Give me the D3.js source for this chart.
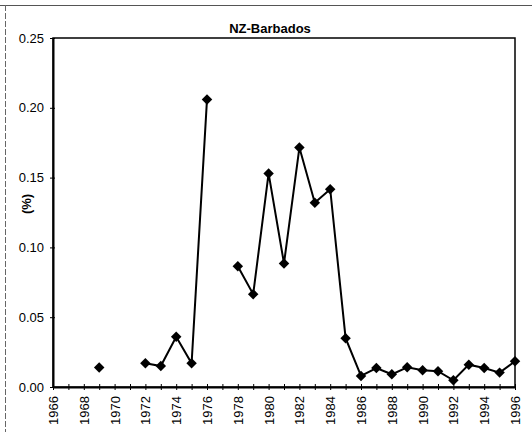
<!DOCTYPE html>
<html>
<head>
<meta charset="utf-8">
<script src="https://cdn.jsdelivr.net/npm/d3@7"></script>
<style>
  html, body { margin: 0; padding: 0; background: #fff; }
  svg { display: block; }
  text { font-family: "Liberation Sans", Arial, sans-serif; }
</style>
</head>
<body>
<svg id="chart" width="532" height="432"></svg>
<script>
// Trade share NZ-Barbados, percent by year (null = no observation)
const years = d3.range(1966, 1997);
const shareValues = [
  null, null, null, 0.014, null, null, 0.017, 0.015, 0.036, 0.017,
  0.206, null, 0.0865, 0.0665, 0.153, 0.0885, 0.1715, 0.132, 0.1417, 0.035,
  0.0079, 0.0136, 0.0091, 0.0141, 0.012, 0.0113, 0.0048, 0.016, 0.0136, 0.0103,
  0.0184
];
const yTicks = [0, 0.05, 0.10, 0.15, 0.20, 0.25];
const xTickLabels = d3.range(1966, 1997, 2);
const chartTitle = "NZ-Barbados";
const yLabel = "(%)";

const svg = d3.select("#chart");
const margin = { left: 53, right: 17, top: 38, bottom: 45 };
const W = 532, H = 432;
const x = d3.scaleLinear().domain([1966, 1996]).range([margin.left, W - margin.right]);
const y = d3.scaleLinear().domain([0, 0.25]).range([H - margin.bottom, margin.top]);

const data = years.map((yr, i) => ({ year: yr, v: shareValues[i] }));

// page frame lines
svg.append("line").attr("x1", 0).attr("x2", W).attr("y1", 5.5).attr("y2", 5.5)
  .attr("stroke", "#555").attr("stroke-width", 1);
svg.append("line").attr("x1", 5.5).attr("x2", 5.5).attr("y1", 5).attr("y2", H)
  .attr("stroke", "#666").attr("stroke-width", 1).attr("stroke-dasharray", "6,2");

// plot border
svg.append("rect")
  .attr("x", x(1966)).attr("y", y(0.25))
  .attr("width", x(1996) - x(1966)).attr("height", y(0) - y(0.25))
  .attr("fill", "none").attr("stroke", "#000").attr("stroke-width", 1.5);

// y axis
const yAxis = d3.axisLeft(y).tickValues(yTicks).tickFormat(d3.format(".2f"))
  .tickSizeInner(4).tickSizeOuter(0).tickPadding(6);
const gy = svg.append("g").attr("transform", `translate(${x(1966)},0)`).call(yAxis);
gy.select(".domain").attr("stroke", "#000").attr("stroke-width", 2);
gy.selectAll(".tick line").attr("stroke", "#000").attr("x2", -3).attr("x1", 2);
gy.selectAll(".tick text").attr("font-size", 13).attr("fill", "#000").attr("x", -9);

// x axis
const xAxis = d3.axisBottom(x).tickValues(years)
  .tickFormat(d => (xTickLabels.includes(d) ? d : ""))
  .tickSizeInner(4).tickSizeOuter(0).tickPadding(4);
const gx = svg.append("g").attr("transform", `translate(0,${y(0)})`).call(xAxis);
gx.select(".domain").attr("stroke", "#000").attr("stroke-width", 2);
gx.selectAll(".tick line").attr("stroke", "#000").attr("y1", -3).attr("y2", 3);
gx.selectAll(".tick text")
  .attr("font-size", 13).attr("fill", "#000")
  .attr("text-anchor", "end")
  .attr("dy", "0.35em")
  .attr("transform", "rotate(-90)")
  .attr("x", -9).attr("y", 0);

// title and axis label
svg.append("text").attr("x", 270).attr("y", 33).attr("text-anchor", "middle")
  .attr("font-size", 13).attr("font-weight", "bold").text(chartTitle);
svg.append("text").attr("transform", "translate(31,204) rotate(-90)")
  .attr("text-anchor", "middle").attr("font-size", 13).attr("font-weight", "bold")
  .text(yLabel);

// series line with gaps
const line = d3.line().defined(d => d.v != null)
  .x(d => x(d.year)).y(d => y(d.v));
svg.append("path").datum(data).attr("d", line)
  .attr("fill", "none").attr("stroke", "#000").attr("stroke-width", 2);

// diamond markers
const diamond = d3.symbol().type(d3.symbolDiamond2).size(70);
svg.append("g").selectAll("path").data(data.filter(d => d.v != null)).join("path")
  .attr("d", diamond)
  .attr("transform", d => `translate(${x(d.year)},${y(d.v)})`)
  .attr("fill", "#000");
</script>
</body>
</html>
